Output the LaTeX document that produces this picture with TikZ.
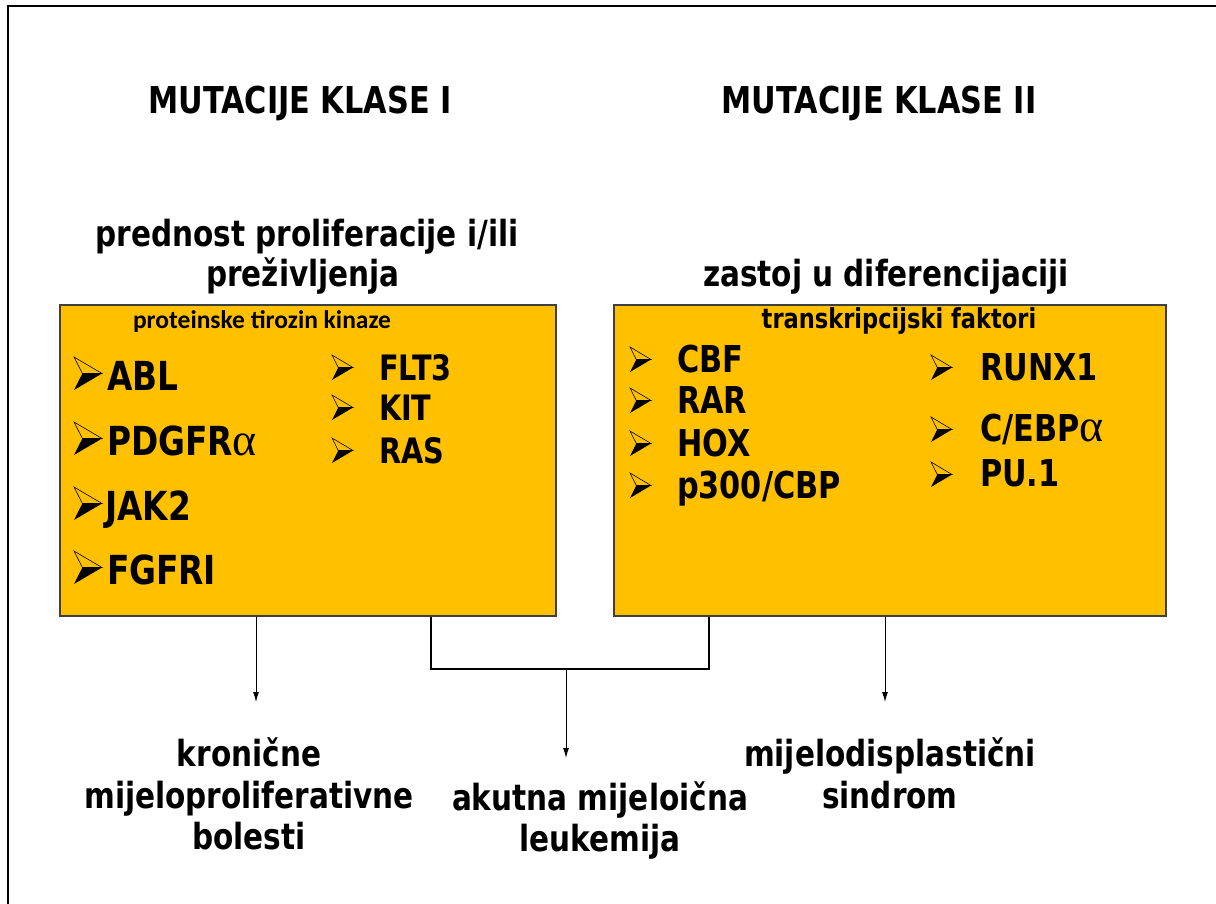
\documentclass[tikz,border=0pt]{standalone}
\usepackage{fontspec}
\setmainfont{DejaVu Sans}[FakeStretch=0.82]
\newfontfamily\carl{Carlito}
\newfontfamily\grk{Liberation Serif}
\usetikzlibrary{arrows.meta}
\definecolor{gold}{HTML}{FFC000}
\newcommand\fsz[1]{\fontsize{#1}{#1}\selectfont\bfseries}
\newcommand\alf[1]{{\grk\mdseries\fontsize{#1}{#1}\selectfont α}}
\newcommand\bul[3]{%
  \begin{scope}[shift={#1},xscale=#2,yscale=#3]
    \fill (0.3,0.5) -- (1,0.5) -- (0,1) -- cycle;
    \draw[line width=0.6pt,line join=miter] (0,0) -- (1,0.5) -- (0.3,0.5) -- cycle;
  \end{scope}}
\begin{document}
\begin{tikzpicture}[x=1pt,y=-1pt,
  txt/.style={inner sep=0pt,outer sep=0pt,text=black},
  head/.style={txt,anchor=base,font=\fsz{37}},
  sub/.style={txt,anchor=base,font=\fsz{36}},
  lab/.style={txt,anchor=base,font=\fsz{36}},
  big/.style={txt,anchor=base west,font=\fsz{40}},
  mid/.style={txt,anchor=base west,font=\fsz{35}},
  rit/.style={txt,anchor=base west,font=\fsz{37}},
  box/.style={draw=black!75,line width=1.5pt,fill=gold,anchor=north west,inner sep=0pt},
  arr/.style={draw=black,line width=1pt,-{Latex[length=10pt,width=6pt]}},
  link/.style={draw=black,line width=1.3pt}]
\useasboundingbox (0,0) rectangle (1216,903);
\fill[white] (0,0) rectangle (1216,903);
% frame
\draw[line width=2.5pt,line cap=rect] (8,903) -- (8,6) -- (1216,6);
% headings
\node[head] (h1) at (300,113) {MUTACIJE KLASE I};
\node[head] (h2) at (879,113) {MUTACIJE KLASE II};
\node[sub] (s1a) at (307,246) {prednost proliferacije i/ili};
\node[sub] (s1b) at (303,286) {preživljenja};
\node[sub] (s2) at (886,286) {zastoj u diferencijaciji};
% boxes
\node[box,minimum width=496pt,minimum height=311pt] (L) at (59,304) {};
\node[box,minimum width=552pt,minimum height=311pt] (R) at (613,304) {};
% box captions
\node[txt,anchor=base west,font={\carl\bfseries\fontsize{25.5}{25.5}\selectfont}] (c1) at (133,328) {proteinske tirozin kinaze};
\node[txt,anchor=base,font=\fsz{27.5}] (c2) at (899,328) {transkripcijski faktori};
% left box items
\node[big] (abl) at (107,390) {ABL};
\node[big] (pdg) at (107,455) {PDGFR\alf{46}};
\node[big] (jak) at (105,520) {JAK2};
\node[big] (fgf) at (107,584) {FGFRI};
\bul{(74,357)}{28}{33}
\bul{(74,422)}{28}{33}
\bul{(74,487)}{28}{33}
\bul{(74,551)}{28}{33}
\node[mid] (flt) at (379,380) {FLT3};
\node[mid] (kit) at (379,420) {KIT};
\node[mid] (ras) at (379,463) {RAS};
\bul{(332,355)}{21}{25}
\bul{(332,395)}{21}{25}
\bul{(332,438)}{21}{25}
% right box items
\node[rit] (cbf) at (677,372) {CBF};
\node[rit] (rar) at (677,413) {RAR};
\node[rit] (hox) at (677,456) {HOX};
\node[rit] (p300) at (677,498) {p300/CBP};
\bul{(630,347)}{21}{25}
\bul{(630,388)}{21}{25}
\bul{(630,431)}{21}{25}
\bul{(630,473)}{21}{25}
\node[rit] (runx) at (980,380) {RUNX1};
\node[rit] (cebp) at (980,441) {C/EBP\alf{46}};
\node[rit] (pu) at (980,486) {PU.1};
\bul{(931,355)}{21}{25}
\bul{(931,417)}{21}{25}
\bul{(931,462)}{21}{25}
% outcome labels
\node[lab] (k1) at (249,766) {kronične};
\node[lab] (k2) at (249,808) {mijeloproliferativne};
\node[lab] (k3) at (249,849) {bolesti};
\node[lab] (a1) at (600,810) {akutna mijeloična};
\node[lab] (a2) at (600,851) {leukemija};
\node[lab] (m1) at (890,766) {mijelodisplastični};
\node[lab] (m2) at (890,808) {sindrom};
% connectors
\coordinate (tipL) at (256,702);
\coordinate (tipM) at (566,758);
\coordinate (tipR) at (885,702);
\coordinate (j) at (566,669);
\draw[arr] (L.south -| tipL) -- (tipL);
\draw[arr] (R.south -| tipR) -- (tipR);
\draw[link] (L.south -| 431,0) -- (431,669) -- (709,669) -- (R.south -| 709,0);
\draw[arr] (j) -- (tipM);
\end{tikzpicture}
\end{document}
